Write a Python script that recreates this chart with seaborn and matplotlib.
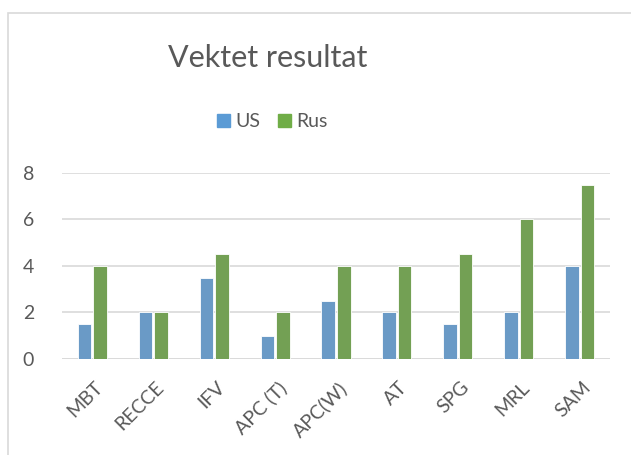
import matplotlib
matplotlib.use("Agg")
import matplotlib.pyplot as plt
import matplotlib.transforms as mtransforms
import seaborn as sns
import pandas as pd
from matplotlib.patches import Rectangle

# data
categories = ["MBT", "RECCE", "IFV", "APC (T)", "APC(W)", "AT", "SPG", "MRL", "SAM"]
us_vals = [1.5, 2, 3.5, 1, 2.5, 2, 1.5, 2, 4]
rus_vals = [4, 2, 4.5, 2, 4, 4, 4.5, 6, 7.5]
series = ["US", "Rus"]
y_ticks = [0, 2, 4, 6, 8]

df = pd.DataFrame({
    "kategori": categories * 2,
    "verdi": us_vals + rus_vals,
    "serie": [series[0]] * len(categories) + [series[1]] * len(categories),
})

sns.set_theme(style="white")
plt.rcParams["font.family"] = ["Lato", "DejaVu Sans"]
txt = "#595959"

fig = plt.figure(figsize=(6.31, 4.55), dpi=100)
ax = fig.add_axes([0.098, 0.211, 0.869, 0.409])

sns.barplot(data=df, x="kategori", y="verdi", hue="serie", order=categories,
            hue_order=series, palette=["#5B9BD5", "#70AD47"],
            width=0.51, gap=0.13, edgecolor="white", linewidth=0.6,
            ax=ax, legend=False)

ax.set_ylim(0, 8)
ax.set_yticks(y_ticks)
ax.yaxis.grid(True, color="#D9D9D9", linewidth=1.2)
ax.set_axisbelow(True)
for s in ax.spines.values():
    s.set_visible(False)
ax.axhline(0, color="#D9D9D9", linewidth=1.2, zorder=0)
ax.set_xlabel("")
ax.set_ylabel("")
ax.tick_params(axis="y", length=0, pad=20, labelsize=14, labelcolor=txt)
ax.tick_params(axis="x", length=0, pad=14, labelsize=14, labelcolor=txt)
shift = mtransforms.ScaledTranslation(2 / 100, 0, fig.dpi_scale_trans)
for lab in ax.get_xticklabels():
    lab.set_rotation(45)
    lab.set_ha("right")
    lab.set_rotation_mode("anchor")
    lab.set_transform(lab.get_transform() + shift)

# title and legend
fig.text(0.425, 0.873, "Vektet resultat", ha="center", va="center",
         fontsize=22, color=txt)
handles = [Rectangle((0, 0), 1, 1, color=c) for c in ["#5B9BD5", "#70AD47"]]
fig.legend(handles, series, loc="center", bbox_to_anchor=(0.432, 0.733), ncol=2,
           frameon=False, fontsize=14, handlelength=0.65, handleheight=0.65,
           handletextpad=0.3, columnspacing=0.9, labelcolor=txt)

# chart border (cropped at right and bottom)
fig.patches.append(Rectangle((8 / 631, -0.1), 1.2, 1 - 13 / 455 + 0.1,
                             transform=fig.transFigure, fill=False,
                             edgecolor="#D9D9D9", linewidth=1.2))

fig.savefig("out.png", dpi=100)
